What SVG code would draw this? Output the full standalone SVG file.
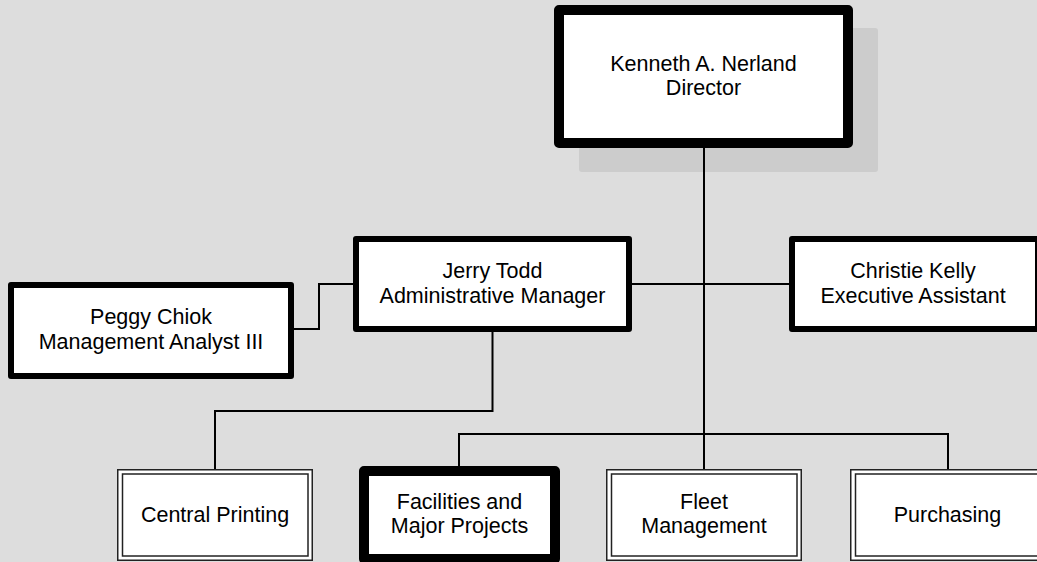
<svg xmlns="http://www.w3.org/2000/svg" width="1037" height="562" viewBox="0 0 1037 562">
<style>
.bg{fill:#dddddd}
.thick{fill:#ffffff;stroke:#000000;stroke-width:10;stroke-linejoin:round}
.med{fill:#ffffff;stroke:#000000;stroke-width:6;stroke-linejoin:round}
.dbl{fill:#ffffff;stroke:#222222;stroke-width:1.5}
.dbli{fill:none;stroke:#222222;stroke-width:1.5}
.conn{fill:none;stroke:#000000;stroke-width:2}
text{font-family:"Liberation Sans",Arial,sans-serif;font-size:21.5px;fill:#000000;text-anchor:middle}
</style>
<rect class="bg" x="0" y="0" width="1037" height="562"/>
<g id="director">
<rect x="579" y="28" width="299" height="144" rx="3" fill="#cccccc"/>
<rect class="thick" x="559" y="10" width="289" height="133"/>
<text x="703.5" y="71">Kenneth A. Nerland</text>
<text x="703.5" y="95">Director</text>
</g>
<g id="jerry">
<rect class="med" x="356" y="239" width="273" height="90"/>
<text x="492.5" y="278">Jerry Todd</text>
<text x="492.5" y="302.5">Administrative Manager</text>
</g>
<g id="peggy">
<rect class="med" x="11" y="285" width="280" height="91"/>
<text x="151" y="324">Peggy Chiok</text>
<text x="151" y="348.5">Management Analyst III</text>
</g>
<g id="christie">
<rect class="med" x="792" y="239" width="246" height="90"/>
<text x="913" y="278">Christie Kelly</text>
<text x="913" y="302.5">Executive Assistant</text>
</g>
<g id="central-printing">
<rect class="dbl" x="117.75" y="469.75" width="194.5" height="90.5"/>
<rect class="dbli" x="122.5" y="474" width="185.5" height="82"/>
<text x="215" y="521.5">Central Printing</text>
</g>
<g id="facilities">
<rect class="thick" x="364" y="471" width="191" height="88"/>
<text x="459.5" y="509">Facilities and</text>
<text x="459.5" y="533">Major Projects</text>
</g>
<g id="fleet">
<rect class="dbl" x="606.75" y="469.75" width="194.5" height="90.5"/>
<rect class="dbli" x="611.5" y="474" width="185.5" height="82"/>
<text x="704" y="509">Fleet</text>
<text x="704" y="533">Management</text>
</g>
<g id="purchasing">
<rect class="dbl" x="850.75" y="469.75" width="194.5" height="90.5"/>
<rect class="dbli" x="855.5" y="474" width="185.5" height="82"/>
<text x="947.5" y="521.5">Purchasing</text>
</g>
<g id="connectors">
<path class="conn" d="M704 148 V469"/>
<path class="conn" d="M632 284 H789"/>
<path class="conn" d="M294 329 H319 V284 H353"/>
<path class="conn" d="M492.5 332 V411 H215 V469"/>
<path class="conn" d="M459 466 V434 H948 V469"/>
</g>
</svg>
